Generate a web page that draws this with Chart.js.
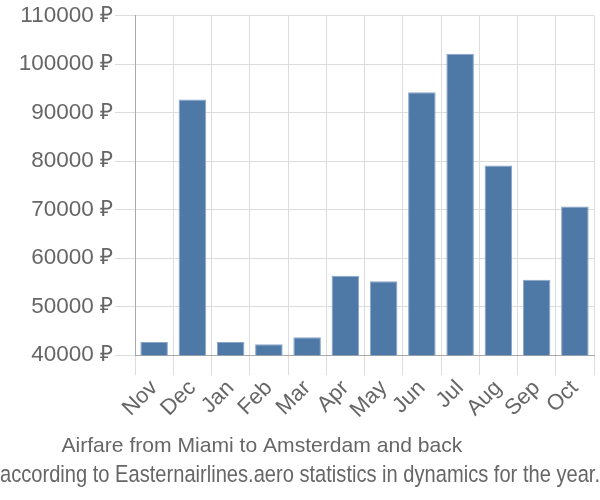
<!DOCTYPE html>
<html>
<head>
<meta charset="utf-8">
<script src="https://cdn.jsdelivr.net/npm/chart.js@4/dist/chart.umd.min.js"></script>
<style>
html,body{margin:0;padding:0;background:#fff;}
#wrap{width:600px;height:500px;}
</style>
</head>
<body>
<div id="wrap"><canvas id="c" width="600" height="500"></canvas></div>
<script>
const categories = ["Nov","Dec","Jan","Feb","Mar","Apr","May","Jun","Jul","Aug","Sep","Oct"];
const prices = [42740, 92670, 42740, 42260, 43700, 56380, 55230, 94180, 102140, 79100, 55560, 70660];
const yMin = 40000;
const yMax = 110000;
const yStep = 10000;
const currency = "₽";
const titleText = "Airfare from Miami to Amsterdam and back";
const subtitleText = "according to Easternairlines.aero statistics in dynamics for the year.";

const FONT = "'Liberation Sans', Arial, sans-serif";
const NB = '\u00a0';

new Chart(document.getElementById('c'), {
  type: 'bar',
  data: {
    labels: categories,
    datasets: [{
      data: prices,
      backgroundColor: '#4e78a6',
      borderColor: '#8aa5c8',
      borderWidth: 1,
      barPercentage: 0.72,
      categoryPercentage: 1.0
    }]
  },
  options: {
    responsive: false,
    animation: false,
    layout: { padding: { top: 5, right: 0, left: 0, bottom: 0 } },
    plugins: {
      legend: { display: false },
      tooltip: { enabled: false },
      title: {
        display: true, text: titleText + NB.repeat(13), position: 'bottom', weight: 1000,
        color: '#666', font: { family: FONT, size: 21.1, weight: 'normal' },
        padding: { top: 10, bottom: 2 }
      },
      subtitle: {
        display: true, text: subtitleText, position: 'bottom', weight: 2000,
        color: '#666', font: { family: FONT, size: 24.5, weight: 'normal' },
        padding: { top: 0, bottom: 10 }
      }
    },
    scales: {
      x: {
        grid: { color: '#dddddd', lineWidth: 1, tickLength: 20, offset: true },
        border: { color: '#aaaaaa' },
        ticks: { color: '#666', font: { family: FONT, size: 22 }, maxRotation: 45, minRotation: 45, padding: 0, autoSkip: false }
      },
      y: {
        min: yMin, max: yMax,
        grid: { color: '#dddddd', lineWidth: 1, tickLength: 20 },
        border: { color: '#aaaaaa' },
        ticks: { stepSize: yStep, color: '#666', font: { family: FONT, size: 22.5 }, padding: 2,
          callback: v => v + ' ' + currency },
        afterFit: s => { s.width = 135; }
      },
      yr: {
        position: 'right', display: true,
        grid: { display: false, drawTicks: false },
        border: { display: false },
        ticks: { display: false },
        afterFit: s => { s.width = 6; }
      }
    }
  }
});
</script>
</body>
</html>
